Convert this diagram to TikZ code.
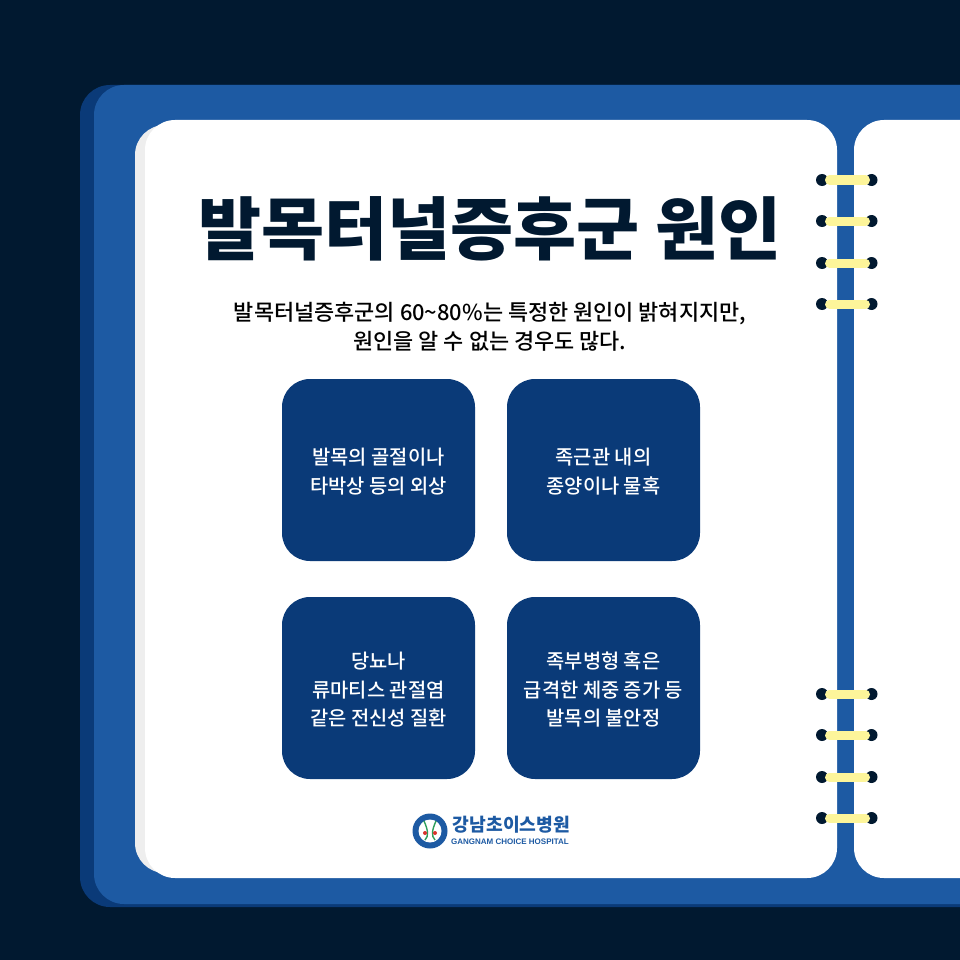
\documentclass[tikz,border=0pt]{standalone}
\usepackage{fontspec}
\setmainfont{Noto Sans CJK KR}
\setsansfont{Liberation Sans}
\newfontfamily\krmedium{Noto Sans CJK KR Medium}
\usetikzlibrary{positioning}
\definecolor{nightbg}{HTML}{011930}
\definecolor{coverblue}{HTML}{1D5AA3}
\definecolor{coverdark}{HTML}{0A3A78}
\definecolor{ringyellow}{HTML}{FDF59A}
\definecolor{sheetgray}{HTML}{EEEEEE}
\definecolor{logogreen}{HTML}{2E9E5B}
\definecolor{logored}{HTML}{D8342C}
\tikzset{
    causebox/.style={fill=coverdark,rounded corners=28pt,minimum width=193pt,minimum height=182pt,
        text=white,align=center,font=\krmedium\fontsize{19.8}{28.5}\selectfont,inner sep=0pt},
}

\begin{document}
\begin{tikzpicture}[x=1pt,y=-1pt]
    \useasboundingbox (0,0) rectangle (960,960);
    \fill [nightbg] (0,0) rectangle (960,960);
    % binder and pages
    \fill [coverdark,rounded corners=30pt] (80,85) rectangle (1040,907);
    \fill [coverblue,rounded corners=30pt] (94,85) rectangle (1040,904);
    \fill [sheetgray,rounded corners=30pt] (135,125) rectangle (400,873);
    \fill [white,rounded corners=30pt] (145,120) rectangle (837,878);
    \fill [white,rounded corners=30pt] (854,120) rectangle (1040,878);
    % rings
    \foreach \ringy in {180,221,263,304,694,735,777,818} {
        \fill [nightbg] (822,\ringy) circle (6);
        \fill [nightbg] (871.5,\ringy) circle (6);
        \draw [ringyellow,line width=9pt,line cap=round] (829.5,\ringy) -- (865.5,\ringy);
    }
    % text
    \node (title) at (490,229) {\fontsize{68.6}{72}\selectfont\bfseries\textcolor{nightbg}{발목터널증후군 원인}};
    \node [align=center,text=black,font=\krmedium\fontsize{21.9}{29}\selectfont] (intro) at (490,327)
        {발목터널증후군의 60\textasciitilde80\%는 특정한 원인이 밝혀지지만,\\원인을 알 수 없는 경우도 많다.};
    % boxes
    \node [causebox] (fracture) at (378.5,470) {\strut 발목의 골절이나\\타박상 등의 외상};
    \node [causebox] (tumor) at (603.5,470) {\strut 족근관 내의\\종양이나 물혹};
    \node [causebox] (disease) at (378.5,688) {\strut 당뇨나\\류마티스 관절염\\같은 전신성 질환};
    \node [causebox] (unstable) at (603.5,688) {\strut 족부병형 혹은\\급격한 체중 증가 등\\발목의 불안정};
    % logo
    \fill [coverblue] (430,831) circle (17.5);
    \fill [white] (430,831) circle (11.5);
    \draw [logogreen,line width=1.4pt] (424,821) .. controls (428,830) and (429,836) .. (425,840);
    \draw [logogreen,line width=1.4pt] (436,821) .. controls (432,830) and (431,836) .. (435,840);
    \fill [logored] (425,833) circle (2);
    \fill [logored] (435,833) circle (2);
    \node [text=coverblue,font=\fontsize{18.2}{20}\selectfont\bfseries] (logoname) at (511.5,825) {강남초이스병원};
    \node [text=coverblue,font=\sffamily\fontsize{8}{10}\selectfont\bfseries] (logosub) at (510,842) {GANGNAM CHOICE HOSPITAL};
\end{tikzpicture}
\end{document}
